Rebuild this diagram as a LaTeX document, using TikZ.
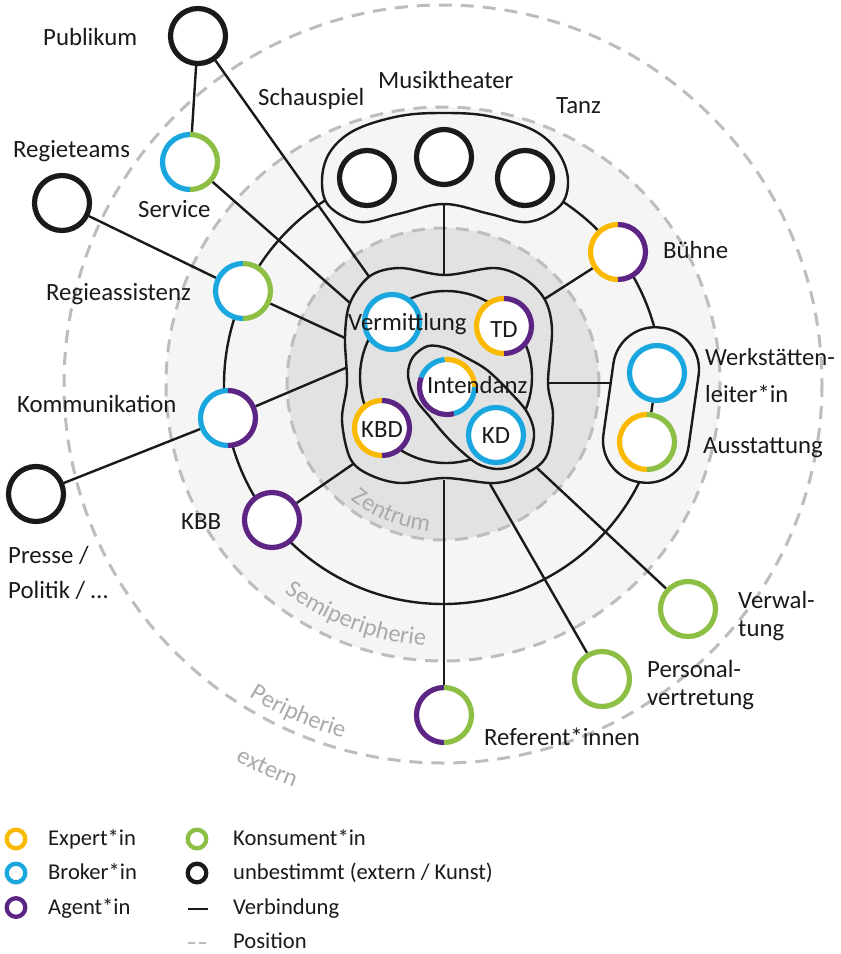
\documentclass[tikz,border=0pt]{standalone}
\usepackage{fontspec}
\setmainfont{Carlito}
\usetikzlibrary{decorations.text}
\definecolor{cyel}{HTML}{FBBA00}
\definecolor{cblue}{HTML}{1AA7E0}
\definecolor{cpurp}{HTML}{5C2483}
\definecolor{cgreen}{HTML}{8CBF44}
\definecolor{cblack}{HTML}{1A1A1A}
\definecolor{gdash}{HTML}{BDBDBD}
\definecolor{gsemi}{HTML}{F5F5F5}
\definecolor{gzen}{HTML}{E2E2E2}
\definecolor{glabel}{HTML}{ABABAB}
\newcommand\fullring[2]{\draw[ringl, #2] (#1) circle[radius=27.5];}
\newcommand\halfring[3]{%
  \draw[ringl,#2] (#1) ++(-90:27.5) arc[start angle=-90, end angle=-270, radius=27.5];
  \draw[ringl,#3] (#1) ++(-90:27.5) arc[start angle=-90, end angle=90, radius=27.5];}
\newcommand\rarc[4]{\draw[ringl,#2] (#1) ++(#3:27.5) arc[start angle=#3, end angle=#4, radius=27.5];}
\newcommand\poslabel[4]{% text, radius, mid angle, half span
  \path[decorate, decoration={text along path, text align=center,
    text={|\color{glabel}\fontsize{24.5}{28}\selectfont|#1}}]
    (cen) ++(#3+#4:#2) arc[start angle=#3+#4, end angle=#3-#4, radius=#2];}
\begin{document}
\begin{tikzpicture}[x=1pt,y=-1pt,
  conn/.style={draw=cblack, line width=2.4pt},
  grp/.style={draw=cblack, line width=2.4pt},
  posline/.style={draw=gdash, line width=3pt, dash pattern=on 13pt off 9pt},
  pnode/.style={circle, fill=white, minimum size=60pt, inner sep=0pt, outer sep=0pt},
  ringl/.style={line width=5.2pt},
  lbl/.style={font=\fontsize{24.8}{29}\selectfont, text=cblack, inner sep=0pt, align=left},
  leg/.style={font=\fontsize{22.6}{26}\selectfont, text=cblack, inner sep=0pt},
]
\useasboundingbox[fill=white] (0,0) rectangle (841,954);
\coordinate (cen) at (443,384);
% zones
\fill[gsemi] (cen) circle[radius=277];
\fill[gzen] (cen) circle[radius=156];
\draw[posline] (cen) circle[radius=156];
\draw[posline] (cen) circle[radius=277];
\draw[posline] (cen) circle[radius=379];
\poslabel{Zentrum}{148}{112}{30}
\poslabel{Semiperipherie}{262}{110.5}{25}
\poslabel{Peripherie}{368}{113.8}{12}
\poslabel{extern}{430}{114.6}{9}

% nodes (white discs, named)
\node[pnode] (pub) at (198,36) {};
\node[pnode] (regt) at (62,203) {};
\node[pnode] (serv) at (190,162) {};
\node[pnode] (rega) at (243,291) {};
\node[pnode] (komm) at (228,418) {};
\node[pnode] (kbb) at (272,520) {};
\node[pnode] (presse) at (36,494) {};
\node[pnode] (ref) at (444,715) {};
\node[pnode] (pers) at (602,679) {};
\node[pnode] (verw) at (688,609) {};
\node[pnode] (buehne) at (618,252) {};
\node[pnode] (werk) at (657,373) {};
\node[pnode] (ausst) at (647,442) {};
\node[pnode] (schau) at (367,178) {};
\node[pnode] (musik) at (444,157) {};
\node[pnode] (tanz) at (525,178) {};
\node[pnode] (verm) at (392,322) {};
\node[pnode] (td) at (504,326) {};
\node[pnode] (kbd) at (382,428) {};
\node[pnode] (intd) at (447,387) {};
\node[pnode] (kd) at (496,435) {};

% border points of the groups
\coordinate (bPub) at (370,278);
\coordinate (bServ) at (350,303);
\coordinate (bRega) at (345,338);
\coordinate (bKomm) at (348,367);
\coordinate (bKbb) at (356,462);
\coordinate (bRef) at (444,480);
\coordinate (bPers) at (490,484);
\coordinate (bVerw) at (537,468);
\coordinate (bBue) at (543,300);
\coordinate (bWerk) at (548,383);
\coordinate (bTop) at (444,276);
\coordinate (gTop) at (444,200);
\coordinate (gWerk) at (618,383);

% big connection ring
\draw[conn] (443,385) circle[radius=219];
% connectors
\draw[conn] (pub) -- (serv);
\draw[conn] (pub) -- (bPub);
\draw[conn] (serv) -- (bServ);
\draw[conn] (regt) -- (rega);
\draw[conn] (rega) -- (bRega);
\draw[conn] (presse) -- (komm);
\draw[conn] (komm) -- (bKomm);
\draw[conn] (kbb) -- (bKbb);
\draw[conn] (ref) -- (bRef);
\draw[conn] (pers) -- (bPers);
\draw[conn] (verw) -- (bVerw);
\draw[conn] (buehne) -- (bBue);
\draw[conn] (bWerk) -- (gWerk);
\draw[conn] (gTop) -- (bTop);

% top group (Kunst)
\draw[grp, fill=gsemi] plot[smooth cycle, tension=0.6] coordinates {
 (322,180) (330,152) (355,130) (400,116) (444,113) (488,116) (533,130) (558,152)
 (568,180) (560,206) (528,222) (490,214) (444,204) (398,214) (360,222) (329,206)};
% Werkstaetten group
\draw[grp, fill=gsemi, rotate around={-8:(651,405)}] (608,327) [rounded corners=42pt] rectangle (694,483);
\draw[conn] (werk) -- (ausst);

% central blob
\draw[grp, fill=gzen] plot[smooth cycle, tension=0.55] coordinates {
 (370,276) (400,268) (445,275) (495,268) (525,279) (545,300) (552,330) (548,383)
 (553,415) (547,455) (527,473) (495,483) (445,478) (400,483) (368,474) (350,458)
 (342,420) (347,383) (345,337) (350,303)};
\draw[conn] (446,377) circle[radius=86];
\draw[grp, fill=gzen] plot[smooth cycle, tension=0.55] coordinates {
 (408,375) (413,357) (428,346) (446,348) (465,357) (487,370) (510,392) (527,412)
 (534,432) (530,452) (515,465) (497,469) (478,464) (460,450) (445,435) (430,417) (415,398)};

% redraw node discs on top
\foreach \n in {pub,regt,serv,rega,komm,kbb,presse,ref,pers,verw,buehne,werk,ausst,schau,musik,tanz,verm,td,kbd,intd,kd}
  \fill[white] (\n) circle[radius=29];

% rings
\fullring{pub}{cblack}
\fullring{regt}{cblack}
\fullring{presse}{cblack}
\fullring{schau}{cblack}
\fullring{musik}{cblack}
\fullring{tanz}{cblack}
\halfring{serv}{cblue}{cgreen}
\halfring{rega}{cblue}{cgreen}
\halfring{komm}{cblue}{cpurp}
\fullring{kbb}{cpurp}
\halfring{ref}{cpurp}{cgreen}
\fullring{pers}{cgreen}
\fullring{verw}{cgreen}
\halfring{buehne}{cyel}{cpurp}
\fullring{werk}{cblue}
\halfring{ausst}{cyel}{cgreen}
\fullring{verm}{cblue}
\halfring{td}{cyel}{cpurp}
\halfring{kbd}{cyel}{cpurp}
\fullring{kd}{cblue}
\rarc{intd}{cyel}{0}{-95}
\rarc{intd}{cblue}{-95}{-160}
\rarc{intd}{cpurp}{-160}{-285}
\rarc{intd}{cblue}{-285}{-360}

% labels
\node[lbl, anchor=base west] (lPub) at (43,45) {Publikum};
\node[lbl, anchor=base west] (lRegt) at (13,157) {Regieteams};
\node[lbl, anchor=base west] (lServ) at (138,217) {Service};
\node[lbl, anchor=base west] (lRega) at (46,300) {Regieassistenz};
\node[lbl, anchor=base west] (lKomm) at (17,412) {Kommunikation};
\node[lbl, anchor=base west] (lKbb) at (181,529) {KBB};
\node[lbl, anchor=base west, font=\fontsize{24.8}{35}\selectfont] (lPresse) at (8,598) {Presse /\\Politik / …};
\node[lbl, anchor=base west] (lSchau) at (258,105) {Schauspiel};
\node[lbl, anchor=base west] (lMusik) at (378,88) {Musiktheater};
\node[lbl, anchor=base west] (lTanz) at (556,113) {Tanz};
\node[lbl, anchor=base west] (lBue) at (663,258) {Bühne};
\node[lbl, anchor=base west, font=\fontsize{24.6}{37}\selectfont] (lWerk) at (705,402) {Werkstätten-\\leiter*in};
\node[lbl, anchor=base west] (lAusst) at (703,453) {Ausstattung};
\node[lbl, anchor=base west, font=\fontsize{24.8}{28}\selectfont] (lVerw) at (738,636) {Verwal-\\tung};
\node[lbl, anchor=base west, font=\fontsize{24.8}{28}\selectfont] (lPers) at (647,705) {Personal-\\vertretung};
\node[lbl, anchor=base west] (lRef) at (484,745) {Referent*innen};
\node[lbl, anchor=base west] (lVerm) at (348,330) {Vermittlung};
\node[lbl, anchor=base] (lTd) at (504,337) {TD};
\node[lbl, anchor=base west] (lIntd) at (427,393) {Intendanz};
\node[lbl, anchor=base] (lKbd) at (382,437) {KBD};
\node[lbl, anchor=base] (lKd) at (496,443) {KD};

% legend
\draw[line width=4.3pt, cyel] (16,839) circle[radius=9.3];
\draw[line width=4.3pt, cblue] (16,873) circle[radius=9.3];
\draw[line width=4.3pt, cpurp] (16,907.5) circle[radius=9.3];
\draw[line width=4.3pt, cgreen] (197,839) circle[radius=9.3];
\draw[line width=4.3pt, cblack] (197,873) circle[radius=9.3];
\draw[conn] (188,909) -- (208,909);
\draw[draw=gdash, line width=2.6pt, dash pattern=on 7pt off 4pt] (188,943) -- (206,943);
\node[leg, anchor=base west] at (48,845) {Expert*in};
\node[leg, anchor=base west] at (48,879.5) {Broker*in};
\node[leg, anchor=base west] at (48,914) {Agent*in};
\node[leg, anchor=base west] at (233,845) {Konsument*in};
\node[leg, anchor=base west] at (233,879.5) {unbestimmt (extern / Kunst)};
\node[leg, anchor=base west] at (233,914) {Verbindung};
\node[leg, anchor=base west] at (233,948.5) {Position};
\end{tikzpicture}
\end{document}
